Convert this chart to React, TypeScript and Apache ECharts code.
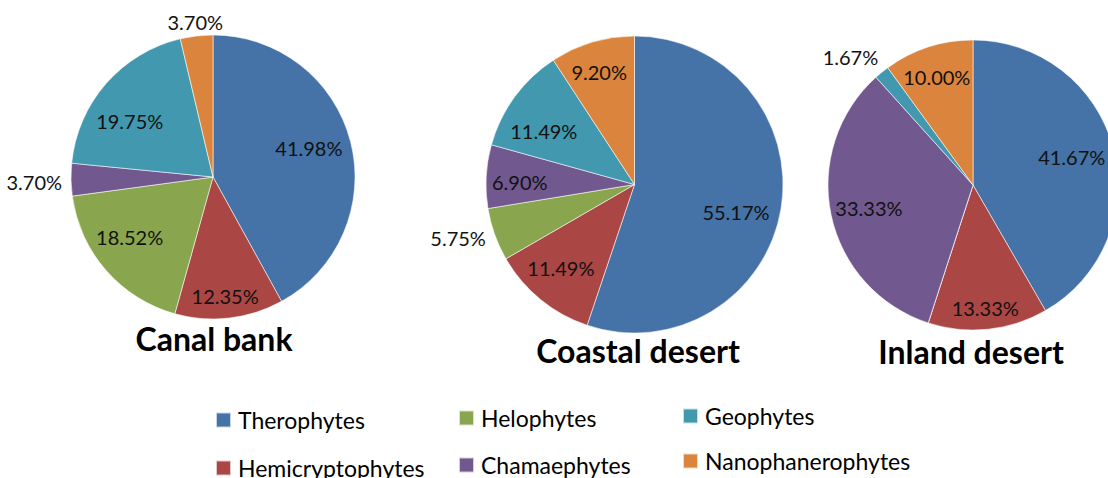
import React, { useEffect, useRef } from "react";
import * as echarts from "echarts";

const categories = [
  "Therophytes",
  "Hemicryptophytes",
  "Helophytes",
  "Chamaephytes",
  "Geophytes",
  "Nanophanerophytes",
];
const canalBank = [41.98, 12.35, 18.52, 3.7, 19.75, 3.7];
const coastalDesert = [55.17, 11.49, 5.75, 6.9, 11.49, 9.2];
const inlandDesert = [41.67, 13.33, 0, 33.33, 1.67, 10.0];
const pieTitles = ["Canal bank", "Coastal desert", "Inland desert"];
const legendColumns = [
  ["Therophytes", "Hemicryptophytes"],
  ["Helophytes", "Chamaephytes"],
  ["Geophytes", "Nanophanerophytes"],
];

const colors = ["#4572A7", "#AA4643", "#89A54E", "#71588F", "#4198AF", "#DB843D"];

// layout (pixels)
const pies = [
  { cx: 213, cy: 177, r: 142, titleX: 214, titleTop: 322 },
  { cx: 634.5, cy: 184.5, r: 148.5, titleX: 638, titleTop: 334 },
  { cx: 973, cy: 185, r: 145, titleX: 971, titleTop: 335 },
];
const legendPos = [
  { left: 215, top: 408, gap: 24 },
  { left: 458, top: 406, gap: 23 },
  { left: 682, top: 404, gap: 21 },
];
// small label nudges [pie][index] = [dx, dy]
const nudges: number[][][] = [
  [[-6, -3], [0, 14], [-4, -9], [0, 2], [-4, 13], [32, -10]],
  [[-7, 10], [-4, -2], [0, 2], [-5, 3], [-2, 11], [-4, -7]],
  [[-5, 0], [1, 16], [0, 0], [1, 1], [4, -12], [-3, -6]],
];

const FONT = "Lato, 'Noto Sans', sans-serif";

export default function App() {
  const ref = useRef<HTMLDivElement>(null);
  useEffect(() => {
    if (!ref.current) return;
    const chart = echarts.init(ref.current, null, { renderer: "svg" });
    const datasets = [canalBank, coastalDesert, inlandDesert];

    const mainSeries = datasets.map((vals, p) => ({
      type: "pie",
      center: [pies[p].cx, pies[p].cy],
      radius: pies[p].r,
      startAngle: 90,
      clockwise: true,
      avoidLabelOverlap: false,
      label: { show: false },
      labelLine: { show: false },
      emphasis: { disabled: true },
      itemStyle: { borderColor: "rgba(255,255,255,0.7)", borderWidth: 0.8 },
      data: categories.map((name, i) => ({
        name,
        value: vals[i],
        itemStyle: { color: colors[i] },
      })),
    }));

    const labelSeries = datasets.map((vals, p) => ({
      type: "pie",
      center: [pies[p].cx, pies[p].cy],
      radius: [pies[p].r * 0.44, pies[p].r],
      startAngle: 90,
      clockwise: true,
      silent: true,
      avoidLabelOverlap: false,
      emphasis: { disabled: true },
      itemStyle: { color: "rgba(0,0,0,0)", borderWidth: 0 },
      labelLine: { show: false, length: 4, length2: 0 },
      label: {
        show: true,
        position: "inside",
        color: "#111",
        fontFamily: FONT,
        fontSize: 20,
        formatter: (d: any) => d.value.toFixed(2) + "%",
      },
      labelLayout: (params: any) => {
        const n = nudges[p][params.dataIndex] || [0, 0];
        return { dx: n[0], dy: n[1] };
      },
      data: categories.map((name, i) => ({
        name,
        value: vals[i],
        label:
          vals[i] === 0
            ? { show: false }
            : vals[i] < 6
            ? { position: "outside" }
            : { position: "inside" },
      })),
    }));

    chart.setOption({
      animation: false,
      backgroundColor: "#ffffff",
      title: pieTitles.map((t, p) => ({
        text: t,
        left: pies[p].titleX,
        top: pies[p].titleTop,
        textAlign: "center",
        padding: 0,
        textStyle: {
          fontFamily: FONT,
          fontWeight: "bold",
          fontSize: 32,
          color: "#000",
        },
      })),
      legend: legendColumns.map((col, c) => ({
        orient: "vertical",
        left: legendPos[c].left,
        top: legendPos[c].top,
        width: 260,
        height: 120,
        itemGap: legendPos[c].gap,
        itemWidth: 15,
        itemHeight: 15,
        icon: "rect",
        padding: 0,
        selectedMode: false,
        data: col,
        textStyle: {
          fontFamily: FONT,
          fontSize: 23,
          color: "#000",
          lineHeight: 24,
          padding: [0, 0, 0, 2],
        },
      })),
      series: [...mainSeries, ...labelSeries],
    });
    return () => chart.dispose();
  }, []);
  return (
    <div
      ref={ref}
      style={{ position: "fixed", left: 0, top: 0, width: 1108, height: 478 }}
    />
  );
}
